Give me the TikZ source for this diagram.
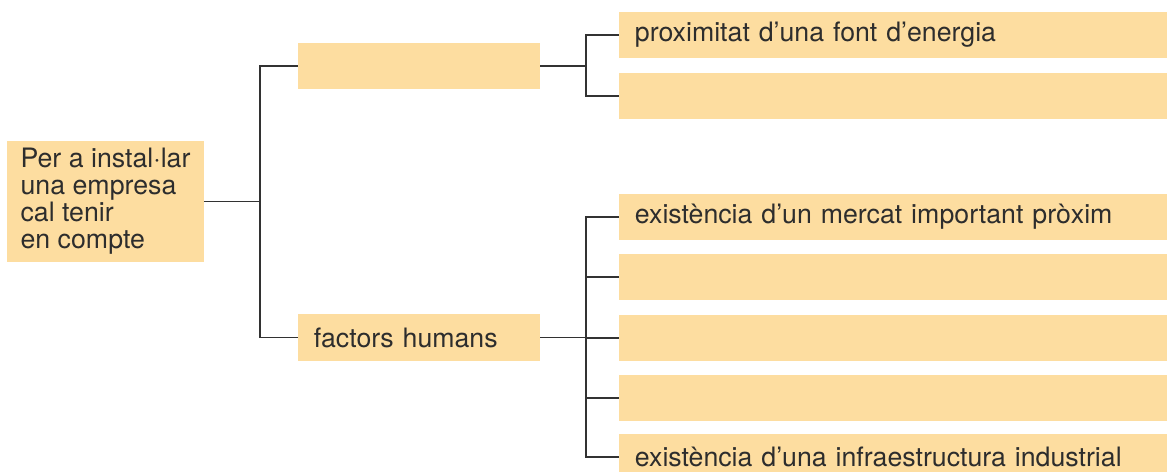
\documentclass[tikz,border=0pt]{standalone}
\usepackage{fontspec}
\setmainfont{TeX Gyre Heros}
\usepackage{tikz}
\usetikzlibrary{positioning}

\definecolor{boxfill}{RGB}{253,221,160}
\definecolor{textgray}{RGB}{45,45,45}
\definecolor{linegray}{RGB}{50,50,50}

\begin{document}
\begin{tikzpicture}[
    x=0.025cm, y=-0.025cm,
    box/.style={rectangle, fill=boxfill, inner xsep=0.4cm, inner ysep=0pt,
                align=left, text=textgray, font=\fontsize{19}{19.2}\selectfont},
    startbox/.style={box, inner xsep=0.33cm, minimum height=3.025cm},
    midbox/.style={box, text width=5.25cm, minimum height=1.15cm},
    leafbox/.style={box, text width=12.9cm, minimum height=1.15cm},
    line/.style={draw=linegray, line width=0.9pt}
]
    \useasboundingbox (0,0) rectangle (1170,472);

    % Starting box
    \node[startbox] (start) at (105.5,201.5) {Per a instal·lar\\una empresa\\cal tenir\\en compte};

    % Middle level
    \node[midbox] (topgroup) at (419,66) {};
    \node[midbox] (humans) at (419,337.5) {factors humans};

    % Leaves of the first group
    \node[leafbox] (energia) at (893,35) {proximitat d’una font d’energia};
    \node[leafbox] (blankA) at (893,96) {};

    % Leaves of the second group
    \node[leafbox] (mercat) at (893,217) {existència d’un mercat important pròxim};
    \node[leafbox] (blankB) at (893,277) {};
    \node[leafbox] (blankC) at (893,338) {};
    \node[leafbox] (blankD) at (893,398) {};
    \node[leafbox] (infra) at (893,457) {existència d’una infraestructura industrial};

    % Branch points
    \coordinate (split1) at (260,201.5);
    \coordinate (split2) at (586,66);
    \coordinate (split3) at (586,337.5);

    % Connectors
    \draw[line] (start.east) -- (split1);
    \draw[line] (split1) |- (topgroup.west);
    \draw[line] (split1) |- (humans.west);

    \draw[line] (topgroup.east) -- (split2);
    \foreach \leaf in {energia, blankA}
        \draw[line] (split2) |- (\leaf.west);

    \draw[line] (humans.east) -- (split3);
    \foreach \leaf in {mercat, blankB, blankC, blankD, infra}
        \draw[line] (split3) |- (\leaf.west);

\end{tikzpicture}
\end{document}
